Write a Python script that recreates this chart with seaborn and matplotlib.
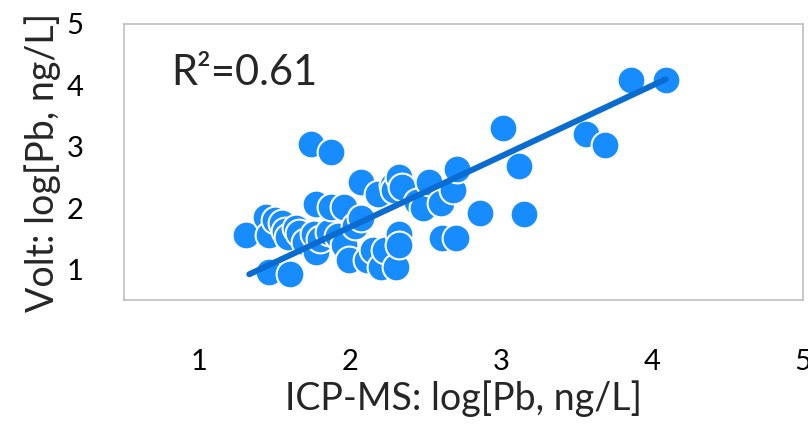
import matplotlib
matplotlib.use("Agg")
import matplotlib.pyplot as plt
import seaborn as sns
import pandas as pd
import numpy as np

# values
icp_ms = [1.31, 1.44, 1.46, 1.46, 1.50, 1.55, 1.57, 1.59, 1.60, 1.64,
          1.66, 1.70, 1.74, 1.77, 1.77, 1.76, 1.80, 1.86, 1.87, 1.87,
          1.92, 1.96, 1.96, 1.99, 2.03, 2.07, 2.07, 2.11, 2.15, 2.18,
          2.20, 2.23, 2.28, 2.29, 2.30, 2.32, 2.32, 2.32, 2.34, 2.44,
          2.48, 2.52, 2.60, 2.61, 2.68, 2.70, 2.71, 2.86, 3.01, 3.12,
          3.15, 3.56, 3.69, 3.86, 4.09]
volt = [1.56, 1.86, 1.56, 0.96, 1.80, 1.75, 1.62, 1.53, 0.92, 1.67,
        1.60, 1.45, 3.05, 1.28, 2.07, 1.58, 1.50, 1.61, 2.92, 2.02,
        1.55, 2.02, 1.39, 1.15, 1.70, 1.83, 2.43, 1.15, 1.31, 2.23,
        1.04, 1.31, 2.38, 2.30, 1.04, 2.51, 1.58, 1.39, 2.35, 2.10,
        2.00, 2.43, 2.08, 1.51, 2.30, 1.51, 2.64, 1.92, 3.30, 2.68,
        1.90, 3.21, 3.02, 4.08, 4.08]
# trend line as drawn in the reference (slope / intercept)
fit_slope = 1.152
fit_intercept = -0.612
r2_label = "R²=0.61"

df = pd.DataFrame({"ICP": icp_ms, "Volt": volt})
fit_x = np.array([min(icp_ms) + 0.02, max(icp_ms)])
fit = pd.DataFrame({"ICP": fit_x, "Volt": fit_slope * fit_x + fit_intercept})

sns.set_style("white")
plt.rcParams["font.family"] = ["Lato", "DejaVu Sans"]

fig = plt.figure(figsize=(8.08, 4.33), dpi=100)
ax = fig.add_axes([0.1535, 0.307, 0.8403, 0.6376])

sns.scatterplot(x="ICP", y="Volt", data=df, s=400, color="#168CFF",
                edgecolor="white", linewidth=1.5, alpha=1, ax=ax, zorder=2)
sns.lineplot(x="ICP", y="Volt", data=fit, color="#0A6CD0", linewidth=4.3,
             solid_capstyle="round", ax=ax, zorder=3)

ax.set_xlim(0.5, 5)
ax.set_ylim(0.5, 5)
ax.set_xticks([1, 2, 3, 4, 5])
ax.set_yticks([1, 2, 3, 4, 5])

for sp in ax.spines.values():
    sp.set_color("#BFBFBF")
    sp.set_linewidth(1.2)

ax.tick_params(axis="x", direction="out", length=14, width=1.2, color="#BFBFBF",
               pad=21, labelsize=21, labelcolor="black")
ax.tick_params(axis="y", direction="out", length=14, width=1.2, color="#BFBFBF",
               pad=15, labelsize=21, labelcolor="black")

ax.set_xlabel("ICP-MS: log[Pb, ng/L]", fontsize=27, labelpad=4)
ax.set_ylabel("Volt: log[Pb, ng/L]", fontsize=27, labelpad=4)

ax.text(0.07, 0.78, r2_label, transform=ax.transAxes, fontsize=30,
        ha="left", va="baseline")

plt.savefig("out.png", dpi=100)
